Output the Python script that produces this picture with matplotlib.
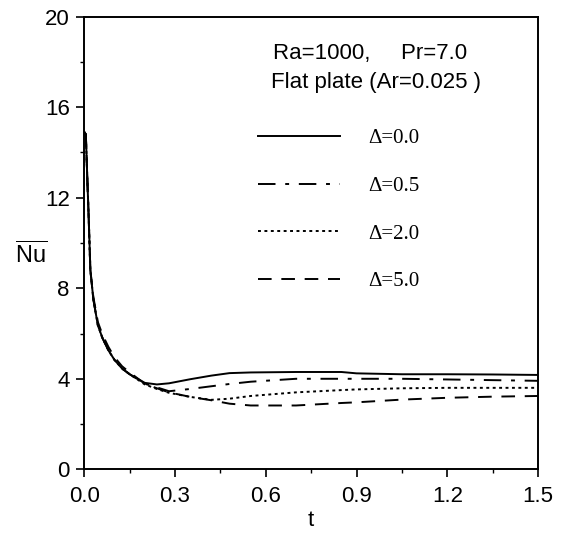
import matplotlib
matplotlib.use("Agg")
import matplotlib.pyplot as plt
from matplotlib.ticker import MultipleLocator

plt.rcParams['font.family'] = ['Liberation Sans', 'DejaVu Sans']
plt.rcParams['mathtext.fontset'] = 'custom'
plt.rcParams['mathtext.rm'] = 'Liberation Sans'

# values
t = [0.0, 0.005, 0.01, 0.014, 0.02, 0.03, 0.045, 0.06, 0.08, 0.1, 0.125, 0.15,
     0.2, 0.24, 0.28, 0.35, 0.42, 0.48, 0.55, 0.7, 0.85, 0.9, 1.05, 1.2, 1.35, 1.5]
nu_0 = [14.9, 14.8, 12.8, 11.3, 8.8, 7.5, 6.35, 5.8, 5.25, 4.83, 4.45, 4.2,
        3.82, 3.75, 3.8, 3.98, 4.14, 4.25, 4.28, 4.3, 4.3, 4.24, 4.2, 4.2, 4.19, 4.17]
nu_05 = [14.9, 14.8, 12.8, 11.3, 8.8, 7.5, 6.35, 5.8, 5.25, 4.83, 4.45, 4.2,
         3.78, 3.62, 3.45, 3.55, 3.67, 3.77, 3.87, 4.0, 4.0, 4.0, 4.0, 3.97, 3.94, 3.91]
nu_2 = [14.9, 14.8, 12.8, 11.3, 8.8, 7.5, 6.35, 5.8, 5.25, 4.83, 4.45, 4.2,
        3.75, 3.55, 3.38, 3.2, 3.07, 3.12, 3.24, 3.4, 3.5, 3.53, 3.58, 3.6, 3.6, 3.6]
nu_5 = [14.9, 14.8, 12.8, 11.3, 8.8, 7.6, 6.5, 5.95, 5.4, 4.95, 4.55, 4.28,
        3.78, 3.58, 3.4, 3.2, 3.05, 2.9, 2.82, 2.82, 2.93, 2.96, 3.08, 3.16, 3.21, 3.24]
labels = ['Δ=0.0', 'Δ=0.5', 'Δ=2.0', 'Δ=5.0']
styles = ['-', (0, (9, 5, 2, 5)), (0, (1.5, 1.8)), (0, (7, 5))]

fig = plt.figure(figsize=(5.61, 5.33), dpi=100)
ax = fig.add_axes([0.1503, 0.1195, 0.8087, 0.8492])

for y, lab, ls in zip([nu_0, nu_05, nu_2, nu_5], labels, styles):
    ax.plot(t, y, color='black', lw=1.4, ls=ls, label=lab)

ax.set_xlim(0, 1.5)
ax.set_ylim(0, 20)
ax.set_xticks([0, 0.3, 0.6, 0.9, 1.2, 1.5])
ax.set_xticklabels(['0.0', '0.3', '0.6', '0.9', '1.2', '1.5'])
ax.xaxis.set_minor_locator(MultipleLocator(0.15))
ax.yaxis.set_major_locator(MultipleLocator(4))
ax.yaxis.set_minor_locator(MultipleLocator(2))
ax.tick_params(which='major', direction='out', length=5.5, width=1.2, labelsize=16)
ax.tick_params(axis='x', which='major', pad=6.5)
ax.tick_params(axis='y', which='major', pad=5)
ax.tick_params(which='minor', direction='out', length=3, width=1.0)
for s in ax.spines.values():
    s.set_linewidth(1.4)

ax.set_xlabel('t', fontsize=16, va='center')
ax.xaxis.set_label_coords(0.5, -0.112)
ax.set_ylabel(r'$\overline{\mathrm{Nu}}$', fontsize=17, rotation=0, ha='center', va='center')
ax.yaxis.set_label_coords(-0.117, 0.473)

ax.text(0.415, 0.906, 'Ra=1000,     Pr=7.0', transform=ax.transAxes, fontsize=16, va='baseline')
ax.text(0.411, 0.842, 'Flat plate (Ar=0.025 )', transform=ax.transAxes, fontsize=16, va='baseline')

ax.legend(loc='upper left', bbox_to_anchor=(0.341, 0.794), frameon=False,
          handlelength=3.94, handletextpad=1.35, labelspacing=1.35,
          prop={'family': 'Liberation Serif', 'size': 15})

fig.savefig('out.png', dpi=100)
